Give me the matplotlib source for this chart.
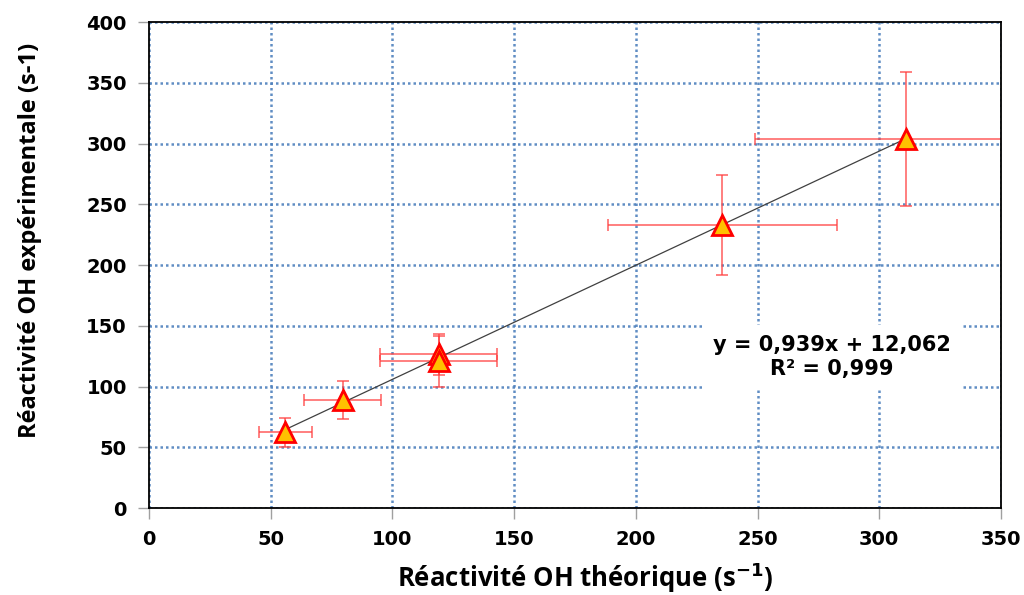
import numpy as np
import matplotlib.pyplot as plt

# donnees
x_theo = [56, 79.5, 119, 119, 235.5, 311]
y_exp = [62.5, 89, 126.5, 121, 233, 304]
x_err = [11, 16, 24, 24, 47, 62]
y_err = [12, 15.5, 17, 21, 41.5, 55]
pente, ordonnee = 0.939, 12.062

fig = plt.figure(figsize=(10.24, 5.95), dpi=100)
ax = fig.add_axes([0.1455, 0.146, 0.832, 0.817])

grid_col = '#4F81BD'
ax.set_xlim(0, 350); ax.set_ylim(0, 400)
ax.set_xticks(np.arange(0, 351, 50)); ax.set_yticks(np.arange(0, 401, 50))
ax.grid(color=grid_col, linestyle=(0, (1, 1.2)), linewidth=1.8, alpha=0.9)
ax.set_axisbelow(True)

# droite de regression
xx = np.array([min(x_theo), max(x_theo)])
ax.plot(xx, pente * xx + ordonnee, color='#404040', linewidth=0.9, zorder=3)

ax.errorbar(x_theo, y_exp, xerr=x_err, yerr=y_err, fmt='none', ecolor='#FF4040',
            elinewidth=1.1, capsize=4, capthick=1.1, alpha=0.85, zorder=2)
ax.plot(x_theo, y_exp, linestyle='none', marker='^', markersize=14,
        markerfacecolor='#FFC000', markeredgecolor='#FF0000', markeredgewidth=2, zorder=4)

# equation de la droite, position en pixels de l'image
ax.text(832 / 1024, 1 - 357 / 595, 'y = 0,939x + 12,062\nR² = 0,999', transform=fig.transFigure,
        fontsize=15, fontweight='bold', family='DejaVu Sans', ha='center', va='center',
        linespacing=1.25, bbox=dict(facecolor='white', edgecolor='none', pad=7), zorder=5)

for s in ax.spines.values():
    s.set_color('black'); s.set_linewidth(1.3)
ax.tick_params(direction='out', length=8, width=1, color='#A0A0A0', pad=8)
for lab in ax.get_xticklabels() + ax.get_yticklabels():
    lab.set_fontweight('bold'); lab.set_fontsize(14)

ax.set_xlabel('Réactivité OH théorique (s$^{\\mathbf{-1}}$)', fontsize=18.5, fontweight='bold',
              family='Open Sans')
ax.set_ylabel('Réactivité OH expérimentale (s-1)', fontsize=17, fontweight='bold',
              family='Open Sans')
ax.xaxis.set_label_coords(0.512, -0.143)
ax.yaxis.set_label_coords(-0.14, 0.551)
ax.xaxis.label.set_va('center'); ax.yaxis.label.set_va('center')

fig.savefig('out.png', dpi=100)
